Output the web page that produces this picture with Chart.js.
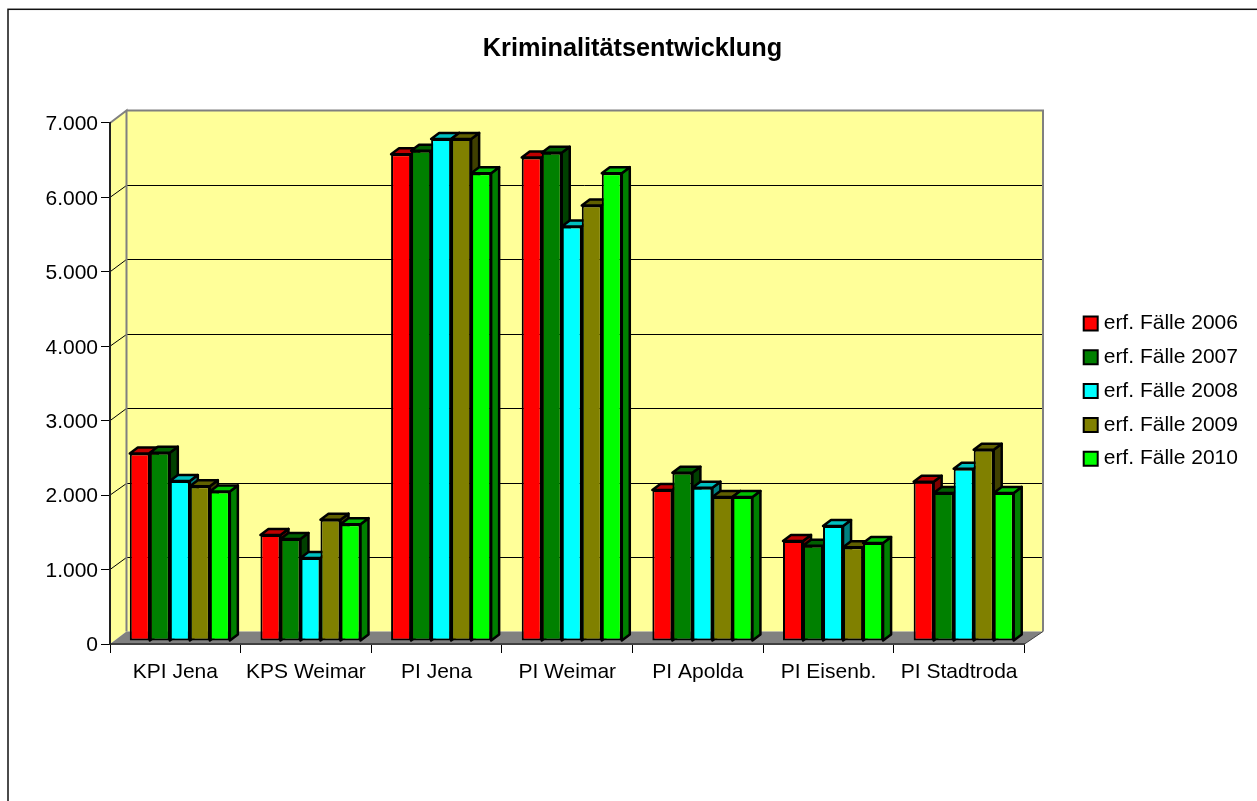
<!DOCTYPE html>
<html lang="de">
<head>
<meta charset="utf-8">
<title>Kriminalitätsentwicklung</title>
<script src="https://cdn.jsdelivr.net/npm/chart.js@4"></script>
<style>
  html, body { margin: 0; padding: 0; background: #fff; overflow: hidden; }
  canvas { display: block; }
</style>
</head>
<body>
<canvas id="grafico" width="1257" height="801"></canvas>
<script>
const categories = ["KPI Jena", "KPS Weimar", "PI Jena", "PI Weimar", "PI Apolda", "PI Eisenb.", "PI Stadtroda"];
const faelle2006 = [2520, 1425, 6540, 6495, 2030, 1345, 2140];
const faelle2007 = [2530, 1370, 6585, 6560, 2260, 1280, 1990];
const faelle2008 = [2150, 1115, 6745, 5570, 2060, 1545, 2315];
const faelle2009 = [2080, 1630, 6745, 5850, 1935, 1260, 2570];
const faelle2010 = [2010, 1570, 6285, 6285, 1935, 1315, 1990];

const seriesNames = ["erf. Fälle 2006", "erf. Fälle 2007", "erf. Fälle 2008", "erf. Fälle 2009", "erf. Fälle 2010"];
const seriesValues = [faelle2006, faelle2007, faelle2008, faelle2009, faelle2010];
const frontColors = ["#ff0000", "#008000", "#00ffff", "#808000", "#00ff00"];
const topColors = ["#c00000", "#006000", "#00c0c0", "#606000", "#00c000"];
const sideColors = ["#800000", "#004000", "#008080", "#404000", "#008000"];

const FONT = "'Liberation Sans', Arial, sans-serif";
const WALL = { dx: 16.5, dxRight: 18.5, dy: -12.5 };   // Tiefe Rückwand
const BAR_SHIFT = { dx: 4.5, dy: -3 };  // Balken stehen in der Mitte des Bodens
const BAR_DEPTH = { dx: 8, dy: -6 };

function drawBarDepth(ctx, bar, i) {
  const { x, y, base, width } = bar.getProps(["x", "y", "base", "width"], true);
  const x1 = x + width / 2;
  const x0 = x - width / 2;
  ctx.fillStyle = sideColors[i];
  ctx.beginPath();
  ctx.moveTo(x1, y);
  ctx.lineTo(x1 + BAR_DEPTH.dx, y + BAR_DEPTH.dy);
  ctx.lineTo(x1 + BAR_DEPTH.dx, base + BAR_DEPTH.dy);
  ctx.lineTo(x1, base);
  ctx.closePath();
  ctx.fill();
  ctx.stroke();
  ctx.fillStyle = topColors[i];
  ctx.beginPath();
  ctx.moveTo(x0, y);
  ctx.lineTo(x0 + BAR_DEPTH.dx, y + BAR_DEPTH.dy);
  ctx.lineTo(x1 + BAR_DEPTH.dx, y + BAR_DEPTH.dy);
  ctx.lineTo(x1, y);
  ctx.closePath();
  ctx.fill();
  ctx.stroke();
}

const pseudo3d = {
  id: "pseudo3d",
  afterLayout(chart) {
    // Legende und Titel an die Position aus dem Original schieben
    const legend = chart.legend;
    const pad = chart.options.plugins.legend.labels.padding;
    legend.left = 1088.2 - pad;
    legend.right = 1257;
    legend.top = 313 - pad;
    legend.bottom = 500;
    chart.titleBlock.left = 0;
    chart.titleBlock.right = 1265;
  },
  beforeDraw(chart) {
    const ctx = chart.ctx;
    const { left, right, top, bottom } = chart.chartArea;
    const backRight = right + WALL.dxRight;

    // Rahmen (rechts und unten außerhalb des Bildes)
    ctx.save();
    ctx.strokeStyle = "#111";
    ctx.lineWidth = 1.5;
    ctx.strokeRect(8, 9.3, 1400, 1000);

    // Rück- und Seitenwand
    ctx.fillStyle = "#ffff99";
    ctx.beginPath();
    ctx.moveTo(left, bottom);
    ctx.lineTo(left, top);
    ctx.lineTo(left + WALL.dx, top + WALL.dy);
    ctx.lineTo(backRight, top + WALL.dy);
    ctx.lineTo(backRight, bottom + WALL.dy);
    ctx.lineTo(left + WALL.dx, bottom + WALL.dy);
    ctx.closePath();
    ctx.fill();

    // Gitterlinien
    ctx.strokeStyle = "#000";
    ctx.lineWidth = 1;
    chart.scales.y.ticks.forEach(t => {
      if (t.value === 0 || t.value === 7000) return;
      const y = chart.scales.y.getPixelForValue(t.value);
      const yBack = Math.round(y + WALL.dy) + 0.5;
      ctx.beginPath();
      ctx.moveTo(left, y);
      ctx.lineTo(left + WALL.dx, yBack);
      ctx.lineTo(backRight, yBack);
      ctx.stroke();
    });

    // Boden
    ctx.fillStyle = "#808080";
    ctx.beginPath();
    ctx.moveTo(left, bottom);
    ctx.lineTo(right, bottom);
    ctx.lineTo(backRight, bottom + WALL.dy);
    ctx.lineTo(left + WALL.dx, bottom + WALL.dy);
    ctx.closePath();
    ctx.fill();

    // graue Kanten der Wände
    ctx.strokeStyle = "#808080";
    ctx.lineWidth = 2;
    ctx.beginPath();
    ctx.moveTo(left, top);
    ctx.lineTo(left + WALL.dx, top + WALL.dy);
    ctx.lineTo(left + WALL.dx, bottom + WALL.dy);
    ctx.moveTo(left + WALL.dx, top + WALL.dy);
    ctx.lineTo(backRight, top + WALL.dy);
    ctx.lineTo(backRight, bottom + WALL.dy);
    ctx.stroke();
    ctx.lineWidth = 1;
    ctx.strokeStyle = "#404040";
    ctx.beginPath();
    ctx.moveTo(right, bottom);
    ctx.lineTo(backRight, bottom + WALL.dy);
    ctx.stroke();
    ctx.restore();
  },
  beforeDatasetsDraw(chart) {
    // von links nach rechts zeichnen, damit der rechte Balken die Seite des linken verdeckt
    const ctx = chart.ctx;
    ctx.save();
    ctx.translate(BAR_SHIFT.dx, BAR_SHIFT.dy);
    ctx.lineWidth = 2.5;
    ctx.strokeStyle = "#000";
    ctx.lineJoin = "round";
    seriesNames.forEach((_, i) => {
      chart.getDatasetMeta(i).data.forEach(bar => {
        drawBarDepth(ctx, bar, i);
        ctx.save();
        bar.draw(ctx);
        ctx.restore();
      });
    });
    ctx.restore();
    return false;
  }
};

new Chart(document.getElementById("grafico").getContext("2d"), {
  type: "bar",
  data: {
    labels: categories,
    datasets: seriesNames.map((name, i) => ({
      label: name,
      data: seriesValues[i],
      backgroundColor: frontColors[i],
      borderColor: "#000",
      borderWidth: 2,
      borderSkipped: false,
      categoryPercentage: 0.766,
      barPercentage: 1
    }))
  },
  plugins: [pseudo3d],
  options: {
    responsive: false,
    animation: false,
    locale: "de-DE",
    layout: { padding: { left: 0, right: 232.5, top: 0, bottom: 0 } },
    plugins: {
      tooltip: { enabled: false },
      title: {
        display: true,
        text: "Kriminalitätsentwicklung",
        color: "#000",
        font: { family: FONT, size: 25.3, weight: "bold", lineHeight: 1.2 },
        padding: { top: 34, bottom: 58.6 }
      },
      legend: {
        position: "chartArea",
        align: "start",
        labels: {
          color: "#000",
          font: { family: FONT, size: 21, lineHeight: 1.2 },
          usePointStyle: true,
          pointStyle: "rect",
          boxWidth: 5,
          boxHeight: 14,
          padding: 12.8
        }
      }
    },
    scales: {
      x: {
        afterFit: s => { s.height = 157; },
        grid: { drawOnChartArea: false, color: "#000", tickLength: 9 },
        border: { color: "#404040", width: 2 },
        ticks: { color: "#000", padding: 7, maxRotation: 0, font: { family: FONT, size: 21 } }
      },
      y: {
        min: 0,
        max: 7000,
        afterFit: s => { s.width = 110; },
        grid: { drawOnChartArea: false, color: "#000", tickLength: 9 },
        border: { color: "#202020", width: 2 },
        ticks: { color: "#000", padding: 3, stepSize: 1000, labelOffset: 1.5, font: { family: FONT, size: 21 } }
      }
    }
  }
});
</script>
</body>
</html>
